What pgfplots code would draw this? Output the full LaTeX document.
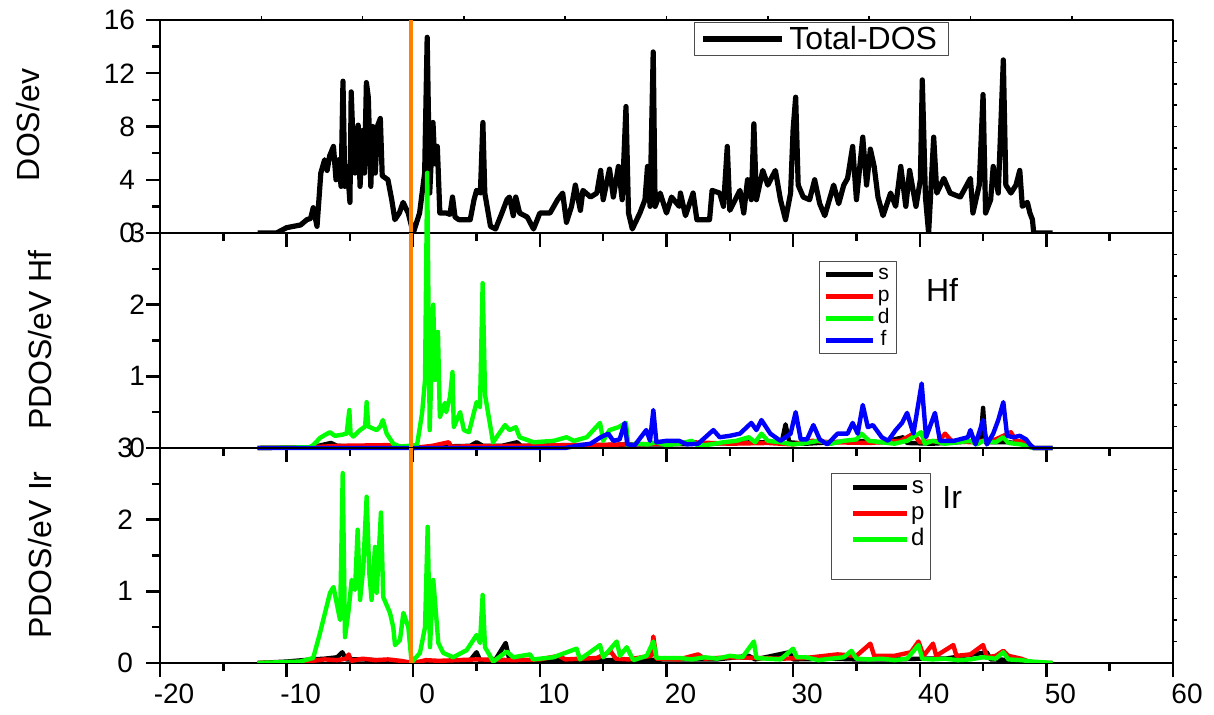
\documentclass[border=0pt]{standalone}
\usepackage{fontspec}
\setmainfont{Liberation Sans}
\usepackage{pgfplots}
\pgfplotsset{compat=1.18}
\definecolor{dosorange}{RGB}{255,128,0}
\definecolor{pgreen}{RGB}{0,255,0}
\definecolor{pred}{RGB}{255,0,0}
\definecolor{pblue}{RGB}{0,0,255}
\pgfplotsset{
  panel/.style={
    scale only axis, width=506.5pt, xmin=-20, xmax=60,
    axis line style={line width=1.2pt},
    every tick/.style={black, line width=1.2pt},
    tick align=outside, major tick length=7pt, minor tick length=4pt,
    xtick={-20,-10,...,60}, minor xtick={-15,-5,...,55},
    xtick pos=bottom, ytick pos=left,
    tick label style={font=\fontsize{14}{16}\selectfont},
    line join=round,
  },
  tinyticks/.style={
    scale only axis, width=506.5pt, xmin=0, xmax=10, ymin=0, ymax=10,
    axis line style={draw=none},
    every tick/.style={black, line width=0.8pt},
    tick align=outside, major tick length=2pt,
    xticklabels={}, yticklabels={},
    ytick={1,...,9}, ytick pos=right, xtick pos=top,
  },
  dosline/.style={black, line width=2.6pt},
  pline/.style={line width=2.2pt},
  fermi/.style={dosorange, line width=2pt, forget plot},
}
\begin{document}
\begin{tikzpicture}
\useasboundingbox (0pt,0pt) rectangle (607pt,357.5pt);
% ---------- top panel ----------
\begin{axis}[panel, at={(80pt,241pt)}, anchor=south west, height=106.5pt,
  ymin=0, ymax=16, ytick={0,4,8,12,16}, yticklabels={0,4,8,12,16},
  minor ytick={2,6,10,14}, xticklabels={},
  yticklabel style={xshift=-2pt},
  legend style={at={(0.527,0.99)}, anchor=north west, draw=black!70, thin,
    inner xsep=3pt, inner ysep=1pt,
    font=\fontsize{16}{18}\selectfont,
    nodes={inner xsep=2.5pt, inner ysep=1pt, text height=11.5pt, text depth=1pt}},
  legend image code/.code={\draw[#1] (0pt,0pt) -- (39.5pt,0pt);},
]
\addplot[dosline] coordinates {
(-12.3,0) (-10.8,0) (-10,0.4) (-8.9,0.6) (-8.4,1.0) (-8.1,1.1) (-7.9,1.9) (-7.6,0.5) (-7.3,4.5) (-7.0,5.5) (-6.8,4.7) (-6.6,5.8) (-6.3,6.5) (-6.1,4.0) (-5.9,5.5) (-5.7,3.5) (-5.55,11.4) (-5.4,3.5) (-5.2,5.0) (-5.0,2.3) (-4.9,10.6) (-4.75,6.7) (-4.6,4.5) (-4.35,8.1) (-4.2,3.5) (-4.0,7.7) (-3.85,4.5) (-3.7,11.3) (-3.55,10.2) (-3.35,3.5) (-3.2,8.0) (-3.0,4.5) (-2.8,8.1) (-2.6,8.6) (-2.45,4.3) (-2.0,4.0) (-1.7,2.5) (-1.45,1.0) (-1.1,1.5) (-0.8,2.3) (-0.4,1.5) (0,0) (0.5,1.5) (0.9,4.5) (1.1,14.7) (1.3,3.0) (1.56,8.3) (1.7,5.2) (1.9,6.5) (2.1,1.5) (2.6,1.5) (2.9,1.4) (3.1,2.7) (3.3,1.2) (3.6,1.0) (4.5,1.0) (4.8,2.5) (5.0,3.2) (5.3,3.0) (5.5,8.3) (5.65,3.0) (6.1,0.5) (6.5,0.3) (7.0,1.5) (7.4,2.5) (7.6,2.7) (7.9,1.3) (8.1,2.7) (8.4,1.5) (9.0,1.2) (9.5,0.3) (10.0,1.5) (10.8,1.5) (11.4,2.5) (11.8,3.0) (12.1,0.8) (12.5,2.0) (12.8,3.6) (13.2,1.7) (13.4,3.2) (14.0,2.7) (14.5,3.0) (14.8,4.7) (15.0,2.5) (15.5,4.8) (15.8,2.7) (16.2,5.0) (16.5,2.5) (16.8,9.5) (17.0,1.5) (17.3,0.3) (17.9,1.5) (18.3,2.5) (18.5,5.0) (18.7,2.0) (18.95,13.6) (19.1,2.0) (19.5,3.0) (20.0,1.5) (20.4,2.7) (21.0,2.0) (21.1,3.0) (21.5,1.3) (22.1,3.0) (22.4,1.0) (23.4,1.0) (23.6,3.2) (24.2,3.0) (24.5,2.0) (24.8,6.5) (25.0,1.7) (25.8,3.2) (26.1,1.5) (26.4,4.0) (26.7,2.5) (26.9,8.2) (27.1,2.5) (27.6,4.7) (28.0,3.6) (28.6,4.7) (29.0,2.5) (29.4,1.0) (29.8,3.0) (30.0,7.8) (30.2,10.2) (30.4,3.6) (30.8,2.7) (31.3,2.5) (31.7,4.0) (32.1,2.2) (32.5,1.3) (33.2,3.6) (33.6,2.2) (34.0,3.6) (34.3,4.1) (34.7,6.5) (35.0,2.5) (35.5,7.2) (35.8,3.6) (36.1,6.3) (36.4,5.0) (36.7,2.7) (37.1,1.3) (37.7,3.0) (38.1,2.0) (38.5,5.0) (38.9,2.0) (39.2,4.7) (39.7,2.0) (40.05,4.0) (40.2,11.5) (40.45,2.7) (40.7,0) (41.1,7.2) (41.35,3.0) (41.9,4.1) (42.4,3.0) (43.2,2.7) (44.0,4.1) (44.2,1.5) (44.7,3.6) (45.0,10.4) (45.2,1.5) (45.6,2.5) (45.8,5.0) (46.2,3.0) (46.6,13.0) (46.8,3.6) (47.2,3.0) (47.6,3.6) (47.9,4.7) (48.1,2.0) (48.5,2.3) (48.7,1.5) (48.9,1.0) (49.0,0) (50.5,0)
};
\addlegendentry{Total-DOS}
\addplot[fermi] coordinates {(-0.2,0) (-0.2,16)};
\end{axis}
\begin{axis}[tinyticks, at={(80pt,241pt)}, anchor=south west, height=106.5pt, xtick={1,...,9}]
\end{axis}
% ---------- Hf panel ----------
\begin{axis}[panel, at={(80pt,133.5pt)}, anchor=south west, height=107.5pt,
  ymin=0, ymax=3, ytick={0,1,2,3}, yticklabels={0,1,2,3},
  minor ytick={0.5,1.5,2.5}, xticklabels={}, clip=false,
  yticklabel style={xshift=3pt},
  legend style={at={(0.6505,0.87)}, anchor=north west, draw=black!70, thin,
    inner xsep=2pt, inner ysep=1pt,
    font=\fontsize{10.5}{11}\selectfont,
    nodes={inner xsep=1.5pt, inner ysep=0.5pt, text height=7.5pt, text depth=2.5pt}},
  legend image code/.code={\draw[#1] (6pt,0pt) -- (29.5pt,0pt);},
]
\addplot[pline, black] coordinates {
(-12.3,0) (-8,0.01) (-7,0.05) (-6.5,0.07) (-6,0.03) (-4,0.02) (-1,0.01) (0,0) (2,0.02) (4.5,0.03) (5.0,0.08) (5.5,0.03) (7,0.03) (8.2,0.08) (8.5,0.03) (12,0.04) (15,0.04) (17,0.05) (20,0.05) (23,0.06) (25,0.07) (27,0.08) (29.1,0.08) (29.4,0.33) (29.7,0.08) (31,0.06) (33,0.08) (35,0.1) (37,0.08) (38.7,0.15) (39,0.07) (41,0.06) (43,0.08) (44.8,0.1) (45.0,0.56) (45.2,0.08) (47,0.08) (48.5,0.05) (49,0) (50.5,0)
};
\addlegendentry{s}
\addplot[pline, pred] coordinates {
(-12.3,0) (-8,0.01) (-6,0.03) (-2,0.04) (0,0) (1.5,0.03) (2.8,0.08) (3,0.02) (8,0.03) (13,0.04) (17,0.05) (20,0.06) (22,0.08) (25,0.06) (28,0.07) (30,0.05) (31.5,0.1) (33,0.08) (36,0.07) (38.5,0.1) (39.5,0.2) (40,0.08) (41.5,0.1) (42,0.2) (42.5,0.1) (44,0.08) (46,0.12) (47.2,0.22) (47.6,0.1) (48.4,0.08) (49,0) (50.5,0)
};
\addlegendentry{p}
\addplot[pline, pgreen] coordinates {
(-12.3,0) (-8.2,0.01) (-7.9,0.04) (-7.36,0.14) (-7.0,0.18) (-6.57,0.22) (-6.2,0.17) (-5.78,0.18) (-5.26,0.2) (-5.05,0.53) (-4.95,0.2) (-4.73,0.16) (-4.2,0.25) (-3.8,0.3) (-3.68,0.64) (-3.55,0.3) (-3.42,0.29) (-2.89,0.25) (-2.6,0.3) (-2.4,0.39) (-2.1,0.2) (-1.58,0.06) (-1.05,0.02) (0.3,0.04) (0.7,0.49) (0.93,0.95) (1.1,3.84) (1.3,0.25) (1.58,2.0) (1.72,0.95) (1.95,1.62) (2.1,0.43) (2.5,0.63) (2.6,0.5) (2.9,0.71) (3.1,1.06) (3.2,0.29) (3.7,0.5) (4.0,0.25) (4.4,0.22) (5.0,0.64) (5.27,0.57) (5.48,2.3) (5.67,0.74) (6.3,0.08) (7.25,0.32) (7.6,0.25) (8.1,0.29) (8.4,0.15) (9.5,0.08) (11.1,0.1) (12.1,0.15) (12.7,0.1) (13.7,0.15) (14.75,0.35) (15.0,0.1) (15.5,0.25) (16.2,0.29) (16.8,0.35) (17.0,0.02) (17.5,0.06) (18.5,0.05) (19.2,0.08) (20,0.04) (21,0.06) (22,0.1) (22.5,0.03) (23.5,0.05) (24.5,0.08) (25.5,0.1) (26.5,0.15) (27.0,0.08) (27.5,0.2) (28,0.1) (29,0.08) (30,0.05) (31,0.07) (32,0.1) (33,0.06) (34,0.1) (35,0.12) (35.4,0.2) (36,0.1) (37,0.08) (38,0.06) (39,0.1) (40.1,0.22) (40.4,0.06) (41,0.1) (42,0.06) (43,0.08) (44,0.1) (44.5,0.05) (45,0.1) (46,0.08) (46.6,0.15) (47,0.07) (48,0.05) (48.9,0) (50.5,0)
};
\addlegendentry{d}
\addplot[pline, pblue] coordinates {
(-12.3,0) (12,0) (13.2,0.04) (14,0.06) (14.8,0.15) (15.4,0.2) (15.8,0.1) (16.3,0.12) (16.7,0.35) (16.9,0.05) (17.5,0.04) (18.4,0.25) (18.7,0.1) (18.96,0.53) (19.2,0.08) (20,0.1) (21,0.1) (21.6,0.05) (22.5,0.06) (23.7,0.25) (24.2,0.15) (25,0.17) (25.8,0.2) (26.7,0.35) (27.1,0.25) (27.5,0.39) (28.2,0.2) (29,0.1) (29.8,0.2) (30.2,0.5) (30.6,0.12) (31.1,0.12) (31.6,0.32) (32.1,0.12) (32.7,0.05) (33.5,0.2) (34.3,0.2) (34.7,0.35) (35.1,0.2) (35.5,0.6) (35.9,0.29) (36.3,0.32) (37,0.15) (37.5,0.1) (38.1,0.25) (38.6,0.35) (39.0,0.49) (39.5,0.2) (40.15,0.9) (40.5,0.15) (41.2,0.49) (41.6,0.1) (42.7,0.1) (43.8,0.15) (44.0,0.25) (44.4,0.05) (45.0,0.39) (45.3,0.05) (45.8,0.2) (46.2,0.39) (46.6,0.64) (46.9,0.17) (47.4,0.15) (47.9,0.17) (48.4,0.12) (48.7,0.05) (49,0) (50.5,0)
};
\addlegendentry{f}
\addplot[fermi] coordinates {(-0.2,0) (-0.2,3)};
\node[font=\fontsize{16}{18}\selectfont] at (rel axis cs:0.772,0.735) {Hf};
\end{axis}
\begin{axis}[tinyticks, at={(80pt,133.5pt)}, anchor=south west, height=107.5pt, xtick=\empty]
\end{axis}
% ---------- Ir panel ----------
\begin{axis}[panel, at={(80pt,26pt)}, anchor=south west, height=107.5pt,
  ymin=0, ymax=3, ytick={0,1,2,3}, yticklabels={0,1,2,3},
  minor ytick={0.5,1.5,2.5},
  xticklabels={-20,-10,0,10,20,30,40,50,60},
  xticklabel style={xshift=7pt},
  yticklabel style={xshift=-3pt},
  legend style={at={(0.662,0.884)}, anchor=north west, draw=black!70, thin,
    inner xsep=2pt, inner ysep=0.5pt,
    font=\fontsize{12}{13}\selectfont,
    nodes={inner xsep=1pt, inner ysep=0.5pt, text height=9pt, text depth=3pt}},
  legend image code/.code={\draw[#1] (9pt,0pt) -- (36pt,0pt);},
]
\addplot[pline, black] coordinates {
(-12.3,0) (-10,0.02) (-8,0.05) (-7,0.06) (-6,0.08) (-5.6,0.15) (-5.3,0.05) (-4,0.05) (-3,0.04) (-2,0.03) (0,0) (2,0.02) (4.5,0.04) (5.0,0.15) (5.3,0.03) (6.5,0.05) (7.3,0.28) (7.6,0.04) (9,0.03) (12,0.04) (15,0.04) (18,0.04) (20,0.05) (24,0.05) (26.5,0.1) (27,0.05) (29.7,0.15) (30,0.05) (33,0.06) (35,0.05) (38,0.05) (40,0.06) (42,0.06) (45.3,0.15) (45.6,0.05) (48,0.04) (48.9,0) (50.5,0)
};
\addlegendentry{s}
\addplot[pline, pred] coordinates {
(-12.3,0) (-9,0.01) (-8,0.03) (-7,0.05) (-6,0.04) (-5.3,0.06) (-5.1,0.12) (-4.9,0.03) (-4,0.06) (-3,0.04) (-2,0.05) (-1,0.03) (0,0) (1,0.04) (2,0.03) (5,0.05) (8,0.04) (10,0.05) (11.5,0.1) (12,0.05) (14.5,0.07) (15.6,0.16) (16,0.06) (17,0.05) (18.8,0.1) (18.96,0.37) (19.2,0.06) (21,0.05) (22.5,0.12) (23,0.06) (25,0.08) (27,0.07) (29,0.06) (31,0.07) (32.5,0.1) (33.5,0.12) (35,0.1) (36.1,0.27) (36.4,0.1) (38,0.1) (39.3,0.15) (39.9,0.3) (40.3,0.1) (41.05,0.27) (41.3,0.1) (42.65,0.25) (42.9,0.1) (44,0.12) (45,0.25) (45.3,0.08) (46,0.1) (46.6,0.17) (47,0.1) (48,0.06) (48.9,0) (50.5,0)
};
\addlegendentry{p}
\addplot[pline, pgreen] coordinates {
(-12.3,0) (-8.94,0.02) (-7.9,0.07) (-7.36,0.42) (-6.97,0.7) (-6.57,0.98) (-6.3,1.06) (-6.05,0.84) (-5.78,0.6) (-5.57,2.65) (-5.39,0.36) (-5.13,0.7) (-4.86,1.16) (-4.6,1.02) (-4.39,1.86) (-4.2,0.88) (-3.94,1.34) (-3.81,1.86) (-3.68,2.32) (-3.47,1.25) (-3.29,0.88) (-3.02,1.62) (-2.89,0.98) (-2.55,2.1) (-2.37,0.92) (-1.84,0.7) (-1.58,0.5) (-1.44,0.25) (-1.05,0.32) (-0.78,0.7) (-0.39,0.5) (-0.13,0.01) (0.53,0.14) (0.93,0.5) (1.14,1.9) (1.32,0.22) (1.58,1.16) (1.98,0.28) (2.37,0.14) (3.16,0.08) (4.22,0.18) (5.0,0.39) (5.27,0.28) (5.48,0.95) (5.67,0.22) (6.32,0.02) (7.38,0.16) (7.9,0.08) (9.22,0.12) (9.48,0.05) (11.06,0.08) (12.9,0.2) (13.17,0.05) (14.75,0.25) (15.0,0.08) (16.07,0.3) (16.33,0.1) (16.86,0.22) (17.38,0.04) (18.44,0.1) (18.96,0.3) (19.22,0.07) (21.07,0.07) (22,0.05) (23,0.08) (24,0.06) (25,0.1) (26,0.08) (26.9,0.3) (27.1,0.07) (28,0.06) (29,0.05) (30.0,0.2) (30.3,0.08) (31,0.08) (32,0.04) (33,0.06) (34,0.08) (34.6,0.17) (35,0.06) (36,0.05) (37,0.06) (38,0.04) (39,0.06) (39.9,0.25) (40.2,0.06) (41,0.05) (42,0.06) (43,0.04) (44,0.05) (45,0.08) (46,0.06) (46.6,0.15) (47,0.05) (48,0.04) (48.9,0.02) (50.5,0)
};
\addlegendentry{d}
\addlegendimage{empty legend}
\addlegendentry{}
\addplot[fermi] coordinates {(-0.2,0) (-0.2,3)};
\node[font=\fontsize{16}{18}\selectfont] at (rel axis cs:0.782,0.772) {Ir};
\end{axis}
\begin{axis}[tinyticks, at={(80pt,26pt)}, anchor=south west, height=107.5pt, xtick=\empty]
\end{axis}
% ---------- y labels ----------
\node[rotate=90, font=\fontsize{16}{18}\selectfont] at (14pt,295pt) {DOS/ev};
\node[rotate=90, font=\fontsize{16}{18}\selectfont] at (20pt,187.5pt) {PDOS/eV Hf};
\node[rotate=90, font=\fontsize{16}{18}\selectfont] at (20pt,80pt) {PDOS/eV Ir};
\end{tikzpicture}
\end{document}
